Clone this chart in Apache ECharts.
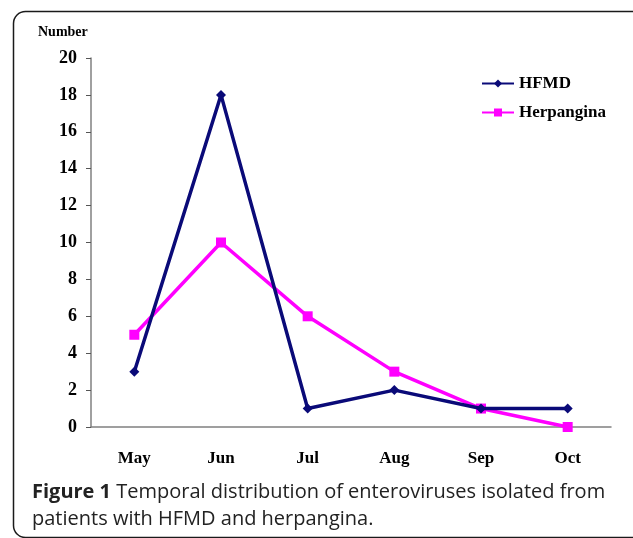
<!DOCTYPE html>
<html><head><meta charset="utf-8">
<script src="https://cdn.jsdelivr.net/npm/echarts@6/dist/echarts.min.js"></script>
<style>html,body{margin:0;padding:0;background:#fff;}#c{width:633px;height:538px;}</style>
</head><body><div id="c"></div>
<script>
var categories = ['May','Jun','Jul','Aug','Sep','Oct'];
var hfmd = [3, 18, 1, 2, 1, 1];
var herpangina = [5, 10, 6, 3, 1, 0];
var seriesNames = ['HFMD', 'Herpangina'];
var yTicks = {min: 0, max: 20, interval: 2};

var chart = echarts.init(document.getElementById('c'));
var serif = '"Liberation Serif", "Times New Roman", serif';
var sans = '"Open Sans", sans-serif';
chart.setOption({
  backgroundColor: '#fff',
  animation: false,
  grid: {left: 91, right: 22, top: 58, bottom: 111},
  legend: {
    data: seriesNames,
    orient: 'vertical',
    left: 476, top: 70,
    itemWidth: 32, itemHeight: 10, itemGap: 12,
    textStyle: {fontFamily: serif, fontWeight: 'bold', fontSize: 17, color: '#000'}
  },
  graphic: [
    {type: 'rect', shape: {x: 13.5, y: 11.5, width: 660, height: 526, r: 12},
     style: {fill: 'none', stroke: '#1a1a1a', lineWidth: 1.5}, z: 100},
    {type: 'text', left: 38, top: 25,
     style: {text: 'Number', font: 'bold 14px ' + serif, fill: '#000'}},
    {type: 'text', left: 32, top: 479,
     style: {
       text: '{b|Figure 1} Temporal distribution of enteroviruses isolated from\npatients with HFMD and herpangina.',
       rich: {b: {fontWeight: 'bold', fontFamily: sans, fontSize: 20, fill: '#222', lineHeight: 27}},
       fontFamily: sans, fontSize: 20, fill: '#222', lineHeight: 27
     }}
  ],
  xAxis: {
    type: 'category', data: categories, boundaryGap: true,
    axisLine: {lineStyle: {color: '#808080', width: 1.5}},
    axisTick: {inside: true, length: 6, lineStyle: {color: '#555'}},
    axisLabel: {margin: 23, fontFamily: serif, fontWeight: 'bold', fontSize: 17, color: '#000'}
  },
  yAxis: {
    type: 'value', min: yTicks.min, max: yTicks.max, interval: yTicks.interval,
    splitLine: {show: false},
    axisLine: {show: true, lineStyle: {color: '#808080', width: 1.5}},
    axisTick: {show: true, length: 5, lineStyle: {color: '#555'}},
    axisLabel: {margin: 14, fontFamily: serif, fontWeight: 'bold', fontSize: 18, color: '#000'}
  },
  series: [
    {name: seriesNames[0], type: 'line', data: hfmd, symbol: 'diamond', symbolSize: 10,
     lineStyle: {color: '#0a0a78', width: 3.5}, itemStyle: {color: '#0a0a78'}, z: 3},
    {name: seriesNames[1], type: 'line', data: herpangina, symbol: 'rect', symbolSize: 10,
     lineStyle: {color: '#ff00ff', width: 3.5}, itemStyle: {color: '#ff00ff'}, z: 2}
  ]
});
</script></body></html>
